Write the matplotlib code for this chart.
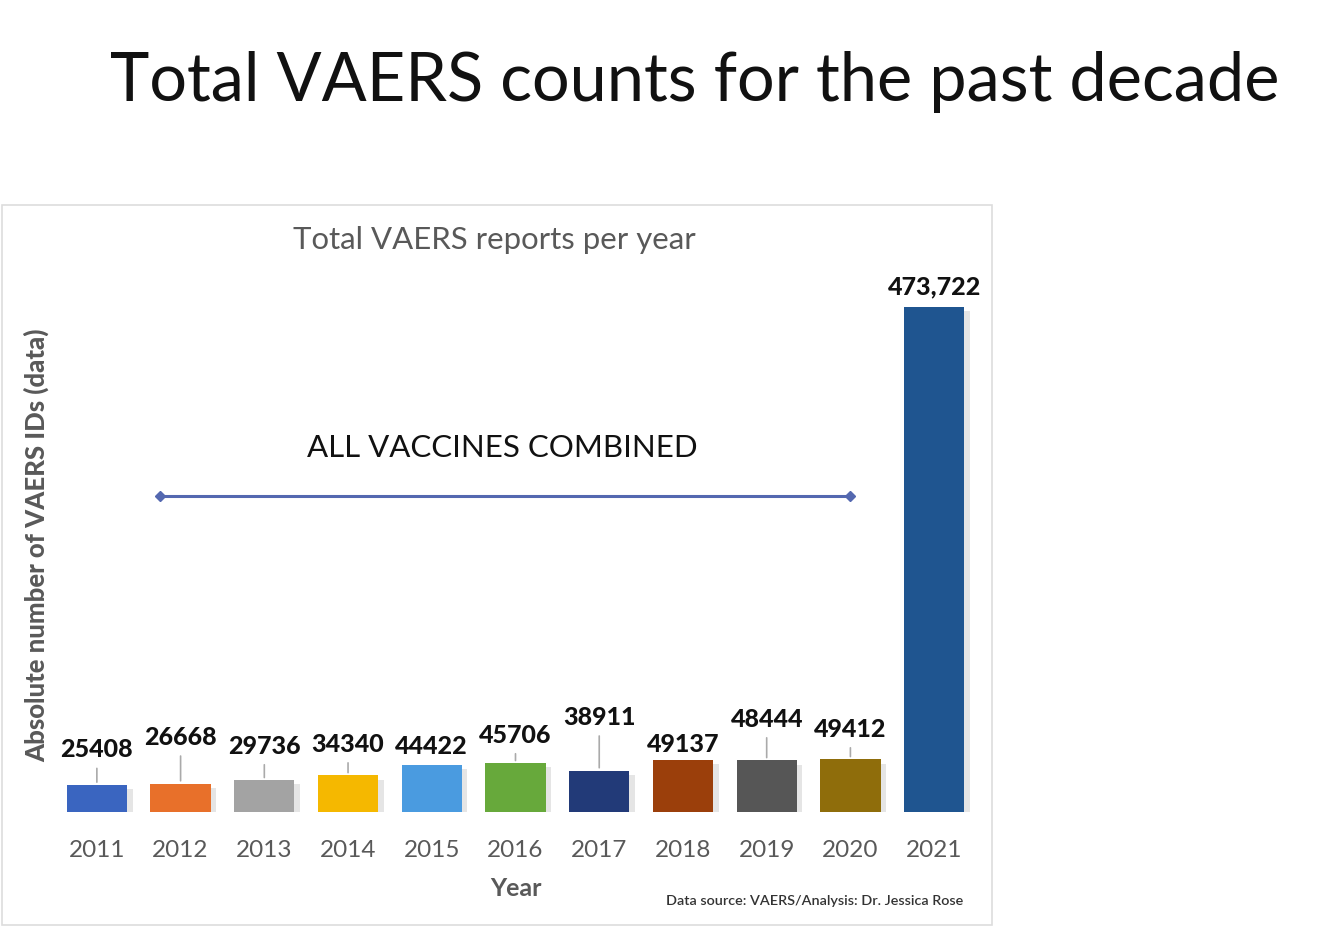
import matplotlib
matplotlib.use("Agg")
import matplotlib.pyplot as plt
from matplotlib.patches import Rectangle
import matplotlib.patheffects as pe

# ---- data ----
years = ["2011", "2012", "2013", "2014", "2015", "2016", "2017", "2018", "2019", "2020", "2021"]
counts = [25408, 26668, 29736, 34340, 44422, 45706, 38911, 49137, 48444, 49412, 473722]
value_labels = ["25408", "26668", "29736", "34340", "44422", "45706", "38911", "49137", "48444", "49412", "473,722"]

# ---- styling ----
bar_colors = ["#3a65c0", "#e8702a", "#a3a3a3", "#f5b800", "#4a9be0", "#67a93b",
              "#223a78", "#9b3f0b", "#565656", "#8f6d0b", "#1f5590"]
label_offsets_px = [35, 46, 34, 31, 18, 28, 53, 15, 41, 30, 20]
FONT = ["Lato", "DejaVu Sans"]
GRAY = "#595959"

W, H = 1343, 936
fig = plt.figure(figsize=(W / 100, H / 100), dpi=100)
fig.patch.set_facecolor("white")

# panel border
fig.patches.append(Rectangle((2 / W, 1 - 925 / H), 990 / W, 720 / H,
                             transform=fig.transFigure, facecolor="none",
                             edgecolor="#dddddd", lw=1.2, zorder=-5))

ax = fig.add_axes([55 / W, 1 - 812 / H, 921 / W, 554 / H])
ax.set_facecolor("none")
x = list(range(len(years)))
bars = ax.bar(x, counts, width=0.72, color=bar_colors, zorder=3)
for b in bars:
    b.set_path_effects([pe.SimplePatchShadow(offset=(4, -3), shadow_rgbFace="#cccccc", alpha=0.5), pe.Normal()])

ax.set_xlim(-0.5, len(years) - 0.5)
ax.set_ylim(0, 520000)
for s in ax.spines.values():
    s.set_visible(False)
ax.set_yticks([])
ax.set_xticks(x)
ax.set_xticklabels(years, fontsize=17.5, color=GRAY, family=FONT)
ax.tick_params(axis="x", length=0, pad=20)

# value labels with leader lines
for xi, v, lab, off in zip(x, counts, value_labels, label_offsets_px):
    arrow = dict(arrowstyle="-", color="#aaaaaa", lw=1.2, shrinkA=3, shrinkB=2,
                 relpos=(0.5, 0.0)) if off > 25 else None
    ax.annotate(lab, xy=(xi, v), xytext=(0, off), textcoords="offset pixels",
                ha="center", va="center", fontsize=18, fontweight="black",
                color="#111111", family=FONT, arrowprops=arrow, zorder=5)

# range line for all vaccines combined
ax.plot([0.75, 9.0], [0.57, 0.57], transform=ax.get_xaxis_transform(),
        color="#5468b0", lw=2.2, marker="D", ms=5, zorder=4)
ax.text(4.84, 0.657, "ALL VACCINES COMBINED", transform=ax.get_xaxis_transform(),
        ha="center", va="center", fontsize=22.5, color="#111111", family=FONT)

# axis labels
ax.set_xlabel("Year", fontsize=18, fontweight="bold", color=GRAY, family=FONT, labelpad=12)
fig.text(37 / W, 1 - 545 / H, "Absolute number of VAERS IDs (data)", rotation=90,
         ha="center", va="center", fontsize=18.5, fontweight="black", color=GRAY, family=FONT)

# panel title and slide title
fig.text(494 / W, 1 - 240 / H, "Total VAERS reports per year", ha="center", va="center",
         fontsize=22.4, color=GRAY, family=FONT)
fig.text(695 / W, 1 - 82 / H, "Total VAERS counts for the past decade", ha="center",
         va="center", fontsize=48, color="#111111", family=FONT)

fig.text(815 / W, 1 - 901 / H, "Data source: VAERS/Analysis: Dr. Jessica Rose",
         ha="center", va="center", fontsize=10.4, fontweight="semibold", color="#333333", family=FONT)

fig.savefig("out.png", dpi=100, facecolor="white")
